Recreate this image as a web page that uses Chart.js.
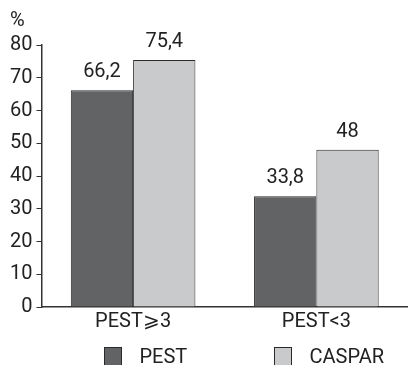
<!DOCTYPE html>
<html>
<head>
<meta charset="utf-8">
<script src="https://cdn.jsdelivr.net/npm/chart.js@4"></script>
<style>
  html, body { margin: 0; padding: 0; background: #fff; }
  #wrap { width: 408px; height: 365px; }
</style>
</head>
<body>
<div id="wrap"><canvas id="myChart1"></canvas></div>
<script>
const categories = ['PEST\u2A7E3', 'PEST<3'];
const seriesNames = ['PEST', 'CASPAR'];
const pestValues = [66.2, 33.8];
const casparValues = [75.4, 48];
const yTicks = [0, 10, 20, 30, 40, 50, 60, 70, 80];

const FONT = "'Roboto', 'Liberation Sans', sans-serif";
const FILLS = ['#626365', '#c9cacc'];

// draws the value above every bar, decimal comma like the original
const valueLabels = {
  id: 'valueLabels',
  afterDatasetsDraw(chart) {
    const ctx = chart.ctx;
    ctx.save();
    ctx.font = '20px ' + FONT;
    ctx.fillStyle = '#222';
    ctx.textAlign = 'center';
    ctx.textBaseline = 'alphabetic';
    chart.data.datasets.forEach((ds, i) => {
      chart.getDatasetMeta(i).data.forEach((bar, j) => {
        const txt = String(ds.data[j]).replace('.', ',');
        ctx.fillText(txt, bar.x, bar.y - 13);
      });
    });
    ctx.restore();
  }
};

// "%" unit on top of the y axis, and the legend under the axis labels
const extras = {
  id: 'extras',
  afterDraw(chart) {
    const ctx = chart.ctx;
    const area = chart.chartArea;
    ctx.save();
    ctx.font = '20px ' + FONT;
    ctx.fillStyle = '#222';
    ctx.textAlign = 'left';
    ctx.textBaseline = 'alphabetic';
    ctx.fillText('%', 10, 26);

    const w = area.right - area.left;
    const starts = [area.left + w * 0.17, area.left + w * 0.635];
    seriesNames.forEach((name, i) => {
      const x = Math.round(starts[i]) + 0.5;
      const y = chart.height - 17.5;
      ctx.fillStyle = FILLS[i];
      ctx.fillRect(x, y, 17, 19);
      ctx.strokeStyle = '#2a2a2a';
      ctx.lineWidth = 1;
      ctx.strokeRect(x, y, 17, 19);
      ctx.fillStyle = '#222';
      ctx.fillText(name, x + 35, chart.height - 2);
    });
    ctx.restore();
  }
};

function createChart() {
  const ctx = document.getElementById('myChart1').getContext('2d');
  new Chart(ctx, {
    type: 'bar',
    data: {
      labels: categories,
      datasets: [
        {
          label: seriesNames[0],
          data: pestValues,
          backgroundColor: FILLS[0],
          borderColor: '#2a2a2a',
          borderWidth: 1,
          borderSkipped: 'bottom',
        },
        {
          label: seriesNames[1],
          data: casparValues,
          backgroundColor: FILLS[1],
          borderColor: '#2a2a2a',
          borderWidth: 1,
          borderSkipped: 'bottom',
        },
      ],
    },
    options: {
      responsive: true,
      maintainAspectRatio: false,
      animation: false,
      layout: { padding: { top: 45, right: 0, left: 6, bottom: 28 } },
      datasets: { bar: { categoryPercentage: 0.68, barPercentage: 1 } },
      scales: {
        x: {
          grid: { display: false, drawTicks: false },
          border: { color: '#333', width: 1.5 },
          ticks: { color: '#222', font: { family: FONT, size: 20 }, padding: 3 },
        },
        y: {
          min: 0,
          max: 80,
          afterBuildTicks(scale) { scale.ticks = yTicks.map(v => ({ value: v })); },
          grid: { drawOnChartArea: false, drawTicks: true, tickLength: 5, color: '#333' },
          border: { color: '#333', width: 1.5 },
          ticks: { color: '#222', font: { family: FONT, size: 20 }, padding: 4, autoSkip: false },
        },
      },
      plugins: {
        legend: { display: false },
        tooltip: { enabled: false },
      },
    },
    plugins: [valueLabels, extras],
  });
}

createChart();
</script>
</body>
</html>
